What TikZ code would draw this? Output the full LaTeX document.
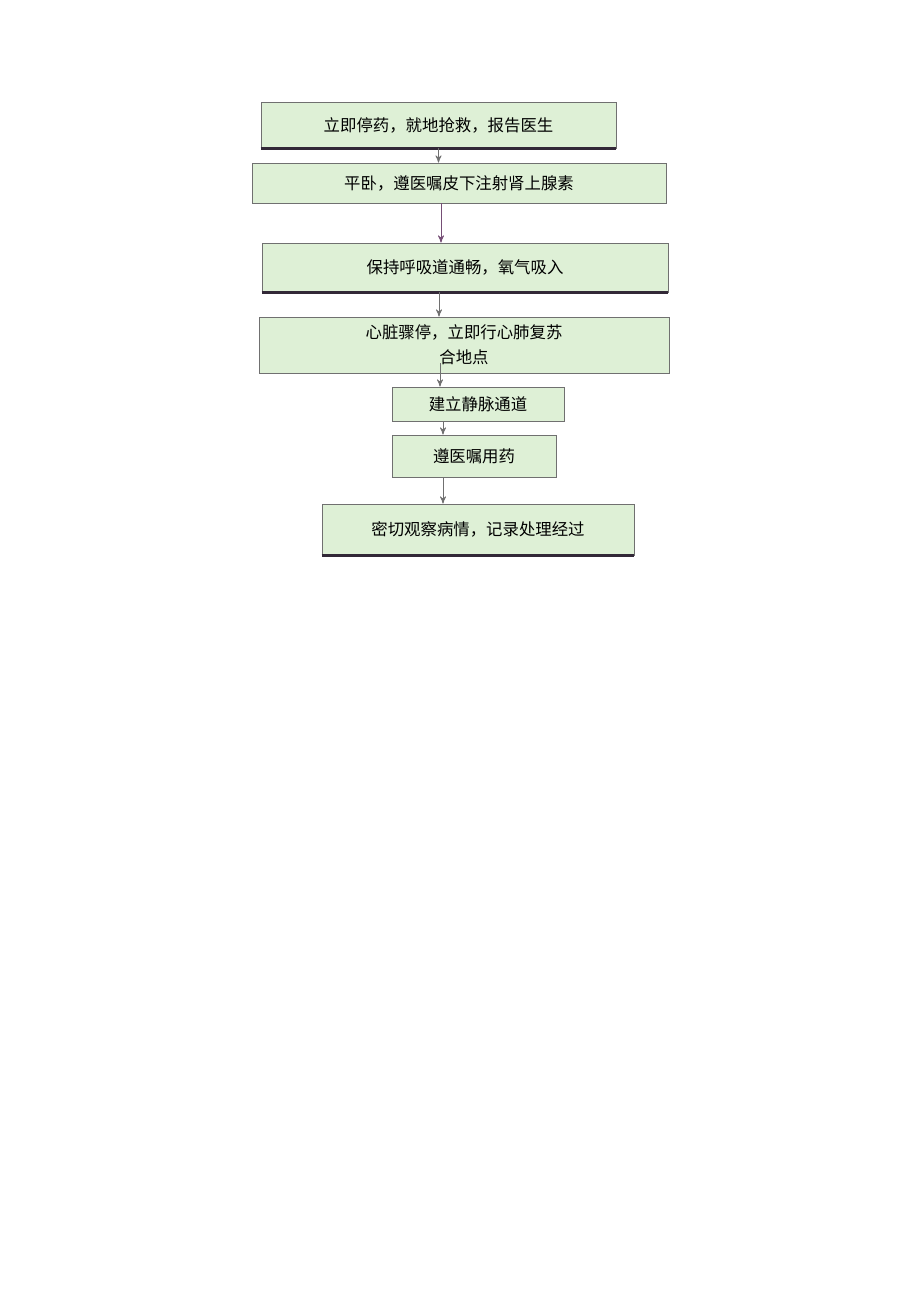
\documentclass[tikz,border=0pt]{standalone}
\usepackage{fontspec}
\newfontfamily\cjk{Noto Sans CJK SC}
\usetikzlibrary{arrows}
\definecolor{boxfill}{RGB}{222,240,214}
\definecolor{boxline}{RGB}{112,112,112}
\definecolor{shadeline}{RGB}{50,40,55}

\begin{document}
\begin{tikzpicture}[x=0.5pt,y=-0.5pt,->,>=stealth',semithick]
\useasboundingbox (0,0) rectangle (920,1301);
\begin{scope}[every node/.style={draw=boxline,fill=boxfill,thin,inner sep=0pt,align=center,font=\cjk\fontsize{8.2}{12.5}\selectfont}]

\node[minimum width=177.5pt,minimum height=23pt] (p1) at (438.5,125) {立即停药，就地抢救，报告医生};
\node[minimum width=207pt,minimum height=20pt] (p2) at (459,183) {平卧，遵医嘱皮下注射肾上腺素};
\node[minimum width=203pt,minimum height=24.5pt] (p3) at (465,267.5) {保持呼吸道通畅，氧气吸入};
\node[minimum width=205pt,minimum height=28pt] (p4) at (464,345) {心脏骤停，立即行心肺复苏\\合地点};
\node[minimum width=86pt,minimum height=17pt] (p5) at (478,404) {建立静脉通道};
\node[minimum width=82pt,minimum height=21pt] (p6) at (474,456) {遵医嘱用药};
\node[minimum width=156pt,minimum height=25.5pt] (p7) at (478,529.5) {密切观察病情，记录处理经过};

\end{scope}

% heavy bottom edges
\draw[-,shadeline,line width=1.5pt] (p1.south west) -- (p1.south east);
\draw[-,shadeline,line width=1.5pt] (p3.south west) -- (p3.south east);
\draw[-,shadeline,line width=1.5pt] (p7.south west) -- (p7.south east);

\draw[->,boxline,thin] (p1.south) -- (p1.south |- p2.north);
\draw[->,boxline!70!violet,thin] ([xshift=-9pt]p2.south) -- ([xshift=-9pt]p2.south |- p3.north);
\draw[->,boxline,thin] ([xshift=-13pt]p3.south) -- ([xshift=-13pt]p3.south |- p4.north);
\draw[->,boxline,thin] ([xshift=-12pt,yshift=5pt]p4.south) -- ([xshift=-12pt]p4.south |- p5.north);
\draw[->,boxline,thin] ([xshift=-17.5pt]p5.south) -- ([xshift=-17.5pt]p5.south |- p6.north);
\draw[->,boxline,thin] ([xshift=-15.5pt]p6.south) -- ([xshift=-15.5pt]p6.south |- p7.north);

\end{tikzpicture}
\end{document}
